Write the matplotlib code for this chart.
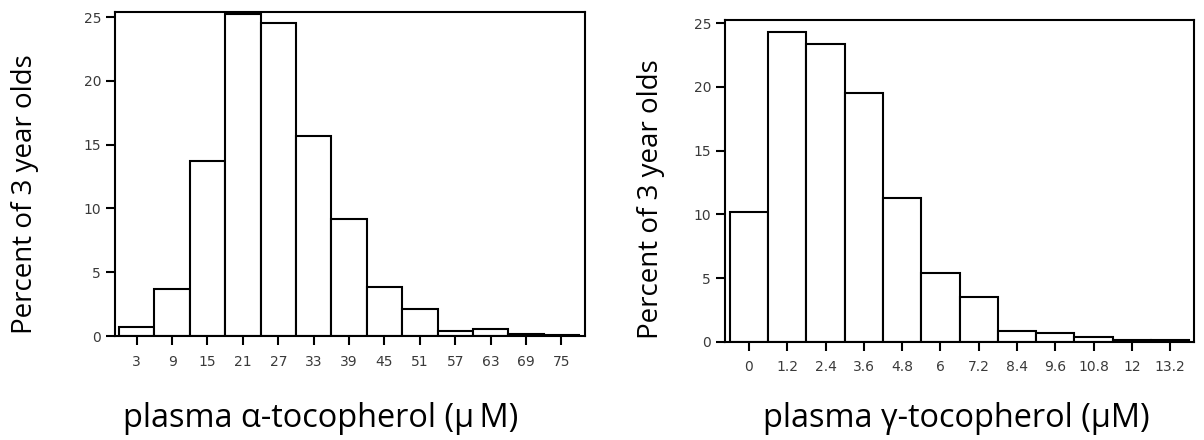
import matplotlib
matplotlib.use('Agg')
import matplotlib.pyplot as plt

# bin centres and percentages
alpha_bins = [3, 9, 15, 21, 27, 33, 39, 45, 51, 57, 63, 69, 75]
alpha_pct = [0.73, 3.66, 13.68, 25.22, 24.54, 15.69, 9.14, 3.81, 2.09, 0.39, 0.55, 0.12, 0.1]

gamma_bins = [0, 1.2, 2.4, 3.6, 4.8, 6, 7.2, 8.4, 9.6, 10.8, 12, 13.2]
gamma_labels = ['0', '1.2', '2.4', '3.6', '4.8', '6', '7.2', '8.4', '9.6', '10.8', '12', '13.2']
gamma_pct = [10.21, 24.29, 23.38, 19.53, 11.26, 5.42, 3.48, 0.84, 0.71, 0.39, 0.12, 0.1]

y_ticks = [0, 5, 10, 15, 20, 25]

ylabel = 'Percent of 3 year olds'
xlabel_alpha = 'plasma \u03b1-tocopherol (\u03bc\u2009M)'
xlabel_gamma = 'plasma \u03b3-tocopherol (\u03bcM)'

tick_font = ['DejaVu Sans']
label_font = ['Open Sans', 'DejaVu Sans']

W, H = 1204, 440
fig = plt.figure(figsize=(W / 100, H / 100), dpi=100)


def style_axes(ax):
    for s in ax.spines.values():
        s.set_linewidth(1.5)
    ax.tick_params(direction='out', length=6.5, width=1.5, labelsize=10,
                   labelcolor='#3a3a3a', pad=3.5)
    ax.tick_params(axis='x', pad=7)
    for lab in ax.get_xticklabels() + ax.get_yticklabels():
        lab.set_family(tick_font)


# left: alpha-tocopherol
ax1 = fig.add_axes([115 / W, 1 - 336 / H, 470 / W, 324 / H])
ax1.bar(alpha_bins, alpha_pct, width=6, facecolor='white', edgecolor='black', linewidth=1.5)
ax1.set_xlim(-0.68, 79.0)
ax1.set_ylim(0, 25.4)
ax1.set_xticks(alpha_bins)
ax1.set_xticklabels([str(b) for b in alpha_bins])
ax1.set_yticks(y_ticks)
style_axes(ax1)

# right: gamma-tocopherol
ax2 = fig.add_axes([725 / W, 1 - 341.7 / H, 469 / W, 321.7 / H])
ax2.bar(gamma_bins, gamma_pct, width=1.2, facecolor='white', edgecolor='black', linewidth=1.5)
ax2.set_xlim(-0.75, 13.95)
ax2.set_ylim(0, 25.26)
ax2.set_xticks(gamma_bins)
ax2.set_xticklabels(gamma_labels)
ax2.set_yticks(y_ticks)
style_axes(ax2)

# axis titles placed as in the figure
fig.text(25 / W, 1 - 194 / H, ylabel, rotation=90, ha='center', va='center',
         fontsize=20, family=label_font)
fig.text(651 / W, 1 - 199 / H, ylabel, rotation=90, ha='center', va='center',
         fontsize=20, family=label_font)
fig.text(321 / W, 1 - 418 / H, xlabel_alpha, ha='center', va='center',
         fontsize=23.4, family=label_font)
fig.text(956 / W, 1 - 418 / H, xlabel_gamma, ha='center', va='center',
         fontsize=23.4, family=label_font)

fig.savefig('out.png', dpi=100, facecolor='white')
